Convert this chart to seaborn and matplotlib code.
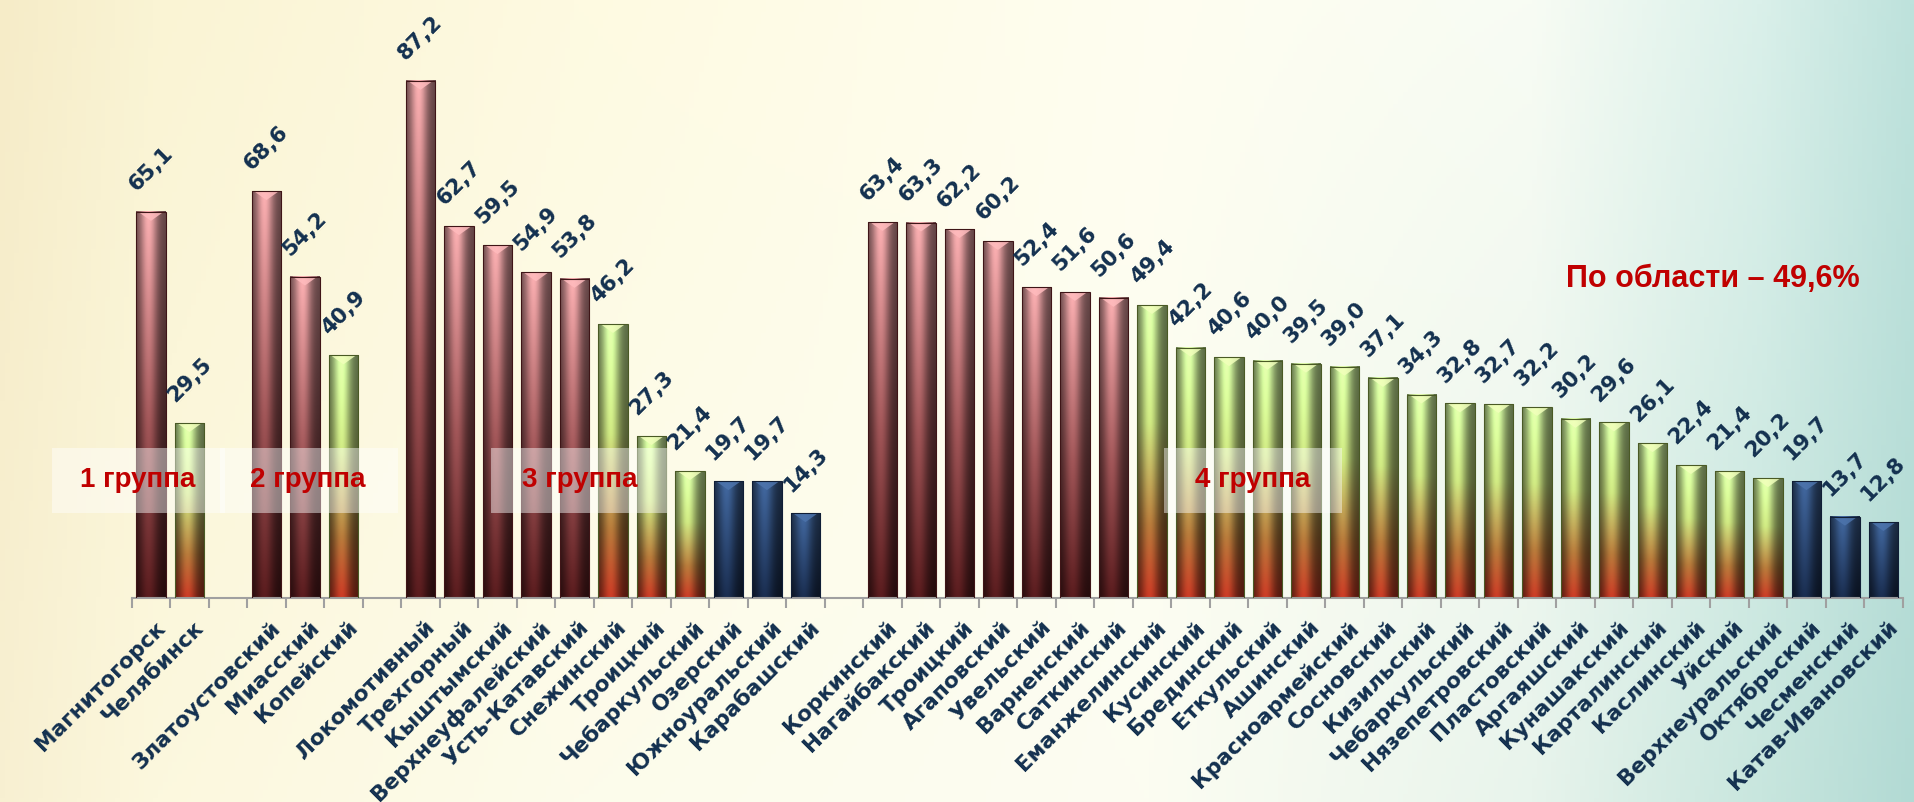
import numpy as np
import pandas as pd
import matplotlib
matplotlib.use("Agg")
import matplotlib.pyplot as plt
import seaborn as sns
from matplotlib.patches import Rectangle, Polygon
from matplotlib.transforms import ScaledTranslation

# ---- data (r = red, g = green, b = blue) ----
group1_names = ["Магнитогорск", "Челябинск"]
group1_values = [65.1, 29.5]
group1_kinds = ["r", "g"]

group2_names = ["Златоустовский", "Миасский", "Копейский"]
group2_values = [68.6, 54.2, 40.9]
group2_kinds = ["r", "r", "g"]

group3_names = ["Локомотивный", "Трехгорный", "Кыштымский", "Верхнеуфалейский",
                "Усть-Катавский", "Снежинский", "Троицкий", "Чебаркульский",
                "Озерский", "Южноуральский", "Карабашский"]
group3_values = [87.2, 62.7, 59.5, 54.9, 53.8, 46.2, 27.3, 21.4, 19.7, 19.7, 14.3]
group3_kinds = ["r"] * 5 + ["g"] * 3 + ["b"] * 3

group4_names = ["Коркинский", "Нагайбакский", "Троицкий", "Агаповский", "Увельский",
                "Варненский", "Саткинский", "Еманжелинский", "Кусинский", "Брединский",
                "Еткульский", "Ашинский", "Красноармейский", "Сосновский", "Кизильский",
                "Чебаркульский", "Нязепетровский", "Пластовский", "Аргаяшский",
                "Кунашакский", "Карталинский", "Каслинский", "Уйский", "Верхнеуральский",
                "Октябрьский", "Чесменский", "Катав-Ивановский"]
group4_values = [63.4, 63.3, 62.2, 60.2, 52.4, 51.6, 50.6, 49.4, 42.2, 40.6, 40.0, 39.5,
                 39.0, 37.1, 34.3, 32.8, 32.7, 32.2, 30.2, 29.6, 26.1, 22.4, 21.4, 20.2,
                 19.7, 13.7, 12.8]
group4_kinds = ["r"] * 7 + ["g"] * 17 + ["b"] * 3

group_titles = ["1 группа", "2 группа", "3 группа", "4 группа"]
region_text = "По области – 49,6%"

groups = [
    (group1_names, group1_values, group1_kinds),
    (group2_names, group2_values, group2_kinds),
    (group3_names, group3_values, group3_kinds),
    (group4_names, group4_values, group4_kinds),
]

# one empty slot between groups
rows = []
slot_labels = []
slot = 0
for gi, (nm, vl, kd) in enumerate(groups):
    if gi > 0:
        slot_labels.append("")
        slot += 1
    for n, v, k in zip(nm, vl, kd):
        rows.append({"slot": slot, "name": n, "value": v, "kind": k})
        slot_labels.append(n)
        slot += 1
df = pd.DataFrame(rows)
n_slots = len(slot_labels)
kind_of_slot = dict(zip(df["slot"], df["kind"]))

base_colors = {"r": "#B86C6E", "g": "#B7D67A", "b": "#2C4A78"}
text_navy = "#13304F"

# ---- figure ----
sns.set_theme(style="white")
plt.rcParams["font.family"] = ["DejaVu Sans"]

fig = plt.figure(figsize=(19.15, 8.02), dpi=100)

# background wash
bg = fig.add_axes([0, 0, 1, 1], zorder=-10)
xs = np.linspace(0, 1, 400)
stops = [0, 0.08, 0.3, 0.6, 0.8, 0.92, 1.0]
top_c = np.array([(246, 236, 200), (250, 244, 212), (254, 250, 225), (255, 254, 240),
                  (248, 252, 244), (218, 240, 234), (190, 226, 220)], float)
bot_c = np.array([(248, 240, 210), (252, 248, 222), (253, 252, 235), (252, 253, 242),
                  (232, 244, 236), (200, 230, 222), (178, 218, 212)], float)
top_row = np.stack([np.interp(xs, stops, top_c[:, c]) for c in range(3)], -1)
bot_row = np.stack([np.interp(xs, stops, bot_c[:, c]) for c in range(3)], -1)
t = np.linspace(0, 1, 200)[:, None, None]
bg_img = (top_row[None] * (1 - t) + bot_row[None] * t) / 255
bg.imshow(bg_img, aspect="auto", extent=(0, 1, 0, 1))
bg.set_axis_off()

ax = fig.add_axes([131.7 / 1915, 204 / 802, 1771 / 1915, 593 / 802])
ax.set_facecolor("none")

sns.barplot(data=df, x="slot", y="value", hue="kind", palette=base_colors,
            order=list(range(n_slots)), dodge=False, width=0.77, legend=False,
            errorbar=None, ax=ax)


def bar_image(kind, ny=120, nx=40):
    v = np.linspace(1, 0, ny)
    u = np.linspace(0, 1, nx)
    if kind == "r":
        vs = [0, 0.45, 1]
        cs = np.array([(84, 26, 28), (150, 80, 82), (234, 164, 166)], float)
    elif kind == "g":
        vs = [0, 0.25, 0.6, 1]
        cs = np.array([(190, 55, 35), (172, 115, 55), (194, 218, 122), (214, 252, 164)], float)
    else:
        vs = [0, 1]
        cs = np.array([(24, 42, 74), (62, 98, 150)], float)
    col = np.stack([np.interp(v, vs, cs[:, c]) for c in range(3)], -1)
    shade = np.minimum(0.42 + 0.66 * np.exp(-((u - 0.42) / 0.3) ** 2), 1.08)
    img = col[:, None, :] * shade[None, :, None]
    return np.clip(img, 0, 255) / 255, cs[-1]


edge_cols = {"r": "#3F1517", "g": "#4A5A25", "b": "#101E36"}
for p in ax.patches:
    h = p.get_height()
    if not np.isfinite(h) or h <= 0:
        continue
    x0 = p.get_x()
    w = p.get_width()
    s = int(round(x0 + w / 2))
    k = kind_of_slot.get(s, "r")
    img, top_col = bar_image(k)
    ax.imshow(img, extent=(x0, x0 + w, 0, h), aspect="auto", zorder=2.5)
    light = np.clip(top_col * 1.08 + 10, 0, 255) / 255
    ax.add_patch(Polygon([(x0 + 0.08 * w, h), (x0 + 0.92 * w, h), (x0 + w / 2, h - 1.5)],
                         closed=True, facecolor=light, edgecolor="none", alpha=0.85, zorder=2.6))
    p.set_facecolor("none")
    p.set_edgecolor(edge_cols[k])
    p.set_linewidth(0.8)
    p.set_zorder(3)

# value labels
for _, r in df.iterrows():
    ax.annotate(f"{r['value']:.1f}".replace(".", ","), (r["slot"], r["value"]),
                xytext=(0, 31), textcoords="offset points", rotation=45,
                rotation_mode="anchor", ha="center", va="center",
                fontsize=15.5, fontweight="bold", color=text_navy, zorder=5)

# group boxes
box_x = [(-2.57, 1.92), (1.79, 6.42), (8.84, 13.41), (26.32, 30.94)]
text_x = [-0.34, 4.08, 11.14, 28.62]
for (bx0, bx1), tx, title in zip(box_x, text_x, group_titles):
    ax.add_patch(Rectangle((bx0, 14.33), bx1 - bx0, 25.3 - 14.33, facecolor="white",
                           alpha=0.45, edgecolor="none", zorder=4, clip_on=False))
    ax.text(tx, 19.9, title, ha="center", va="center", fontsize=20, fontweight="bold",
            color="#C00000", family="Liberation Sans", zorder=6)

ax.text(40.57, 53.8, region_text, ha="center", va="center", fontsize=22,
        fontweight="bold", color="#C00000", family="Liberation Sans", zorder=6)

# axes styling
ax.set_xlim(-0.5, n_slots - 0.5)
ax.set_ylim(0, 100)
ax.set_xlabel("")
ax.set_ylabel("")
ax.set_yticks([])
for side in ["top", "right", "left"]:
    ax.spines[side].set_visible(False)
ax.spines["bottom"].set_color("#A0A0A0")
ax.spines["bottom"].set_linewidth(1.5)
ax.set_xticks(range(n_slots))
ax.set_xticklabels(slot_labels, rotation=45, ha="right", va="center",
                   rotation_mode="anchor", fontsize=15.6, fontweight="bold", color=text_navy)
ax.set_xticks(np.arange(-0.5, n_slots, 1), minor=True)
ax.tick_params(axis="x", which="major", length=0, pad=19)
ax.tick_params(axis="x", which="minor", length=7, width=1.5, color="#A0A0A0", bottom=True)
shift = ScaledTranslation(0.11, 0, fig.dpi_scale_trans)
for lbl in ax.get_xticklabels():
    lbl.set_transform(lbl.get_transform() + shift)

fig.savefig("out.png", dpi=100)
